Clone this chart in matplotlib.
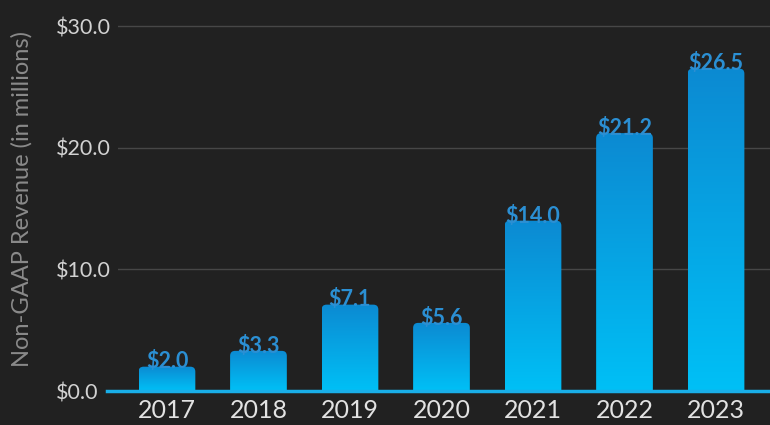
import matplotlib.pyplot as plt
from matplotlib.patches import FancyBboxPatch
from matplotlib.colors import LinearSegmentedColormap
import numpy as np

years = ["2017", "2018", "2019", "2020", "2021", "2022", "2023"]
revenue = [2.0, 3.3, 7.1, 5.6, 14.0, 21.2, 26.5]
yticks = [0, 10, 20, 30]

bg = "#212121"
plt.rcParams["font.family"] = ["Lato", "DejaVu Sans"]

W, H = 770, 425
fig = plt.figure(figsize=(W / 100, H / 100), dpi=100, facecolor=bg)
ax_l, ax_b, ax_r, ax_t = 118, 34, 770, 405
ax = fig.add_axes([ax_l / W, ax_b / H, (ax_r - ax_l) / W, (ax_t - ax_b) / H])
ax.set_facecolor(bg)

xlo, xhi = -0.535, 6.59
ylo, yhi = 0, 30.5
px_x = (ax_r - ax_l) / (xhi - xlo)
px_y = (ax_t - ax_b) / (yhi - ylo)

cmap = LinearSegmentedColormap.from_list("bar", ["#00c0f6", "#0c8ad2"])
grad = np.linspace(0, 1, 256).reshape(-1, 1)
w = 0.62
r = 5 / px_x

for i, v in enumerate(revenue):
    patch = FancyBboxPatch((i - w / 2, -1), w, v + 1,
                           boxstyle="round,pad=0,rounding_size=%f" % r,
                           mutation_aspect=px_x / px_y,
                           facecolor="none", edgecolor="none", zorder=3)
    ax.add_patch(patch)
    im = ax.imshow(grad, cmap=cmap, origin="lower", aspect="auto",
                   extent=[i - w / 2, i + w / 2, 0, v], zorder=3)
    im.set_clip_path(patch)
    ax.text(i, v - 0.15, "$%.1f" % v, ha="center", va="baseline",
            color="#2b8fd3", fontsize=15.5, fontweight="bold", zorder=4)

for t in yticks[1:]:
    ax.axhline(t, color="#474747", lw=1, zorder=1)
ax.axhline(0, xmin=-0.017, xmax=1, color="#19aee8", lw=2.5, zorder=5, clip_on=False)

ax.set_xlim(xlo, xhi)
ax.set_ylim(ylo, yhi)
ax.set_xticks(range(len(years)))
ax.set_xticklabels(years, fontsize=18, color="#e2e2e2")
ax.set_yticks(yticks)
ax.set_yticklabels(["$%.1f" % t for t in yticks], fontsize=15.5, color="#d2d2d2", ha="left")
ax.tick_params(length=0)
ax.tick_params(axis="y", pad=(ax_l - 56) * 0.72)
ax.tick_params(axis="x", pad=6)
for s in ax.spines.values():
    s.set_visible(False)

fig.text(22 / W, 1 - 199 / H, "Non-GAAP Revenue (in millions)", rotation=90,
         ha="center", va="center", fontsize=17, color="#8a8a8a")

fig.savefig("out.png", dpi=100, facecolor=bg)
